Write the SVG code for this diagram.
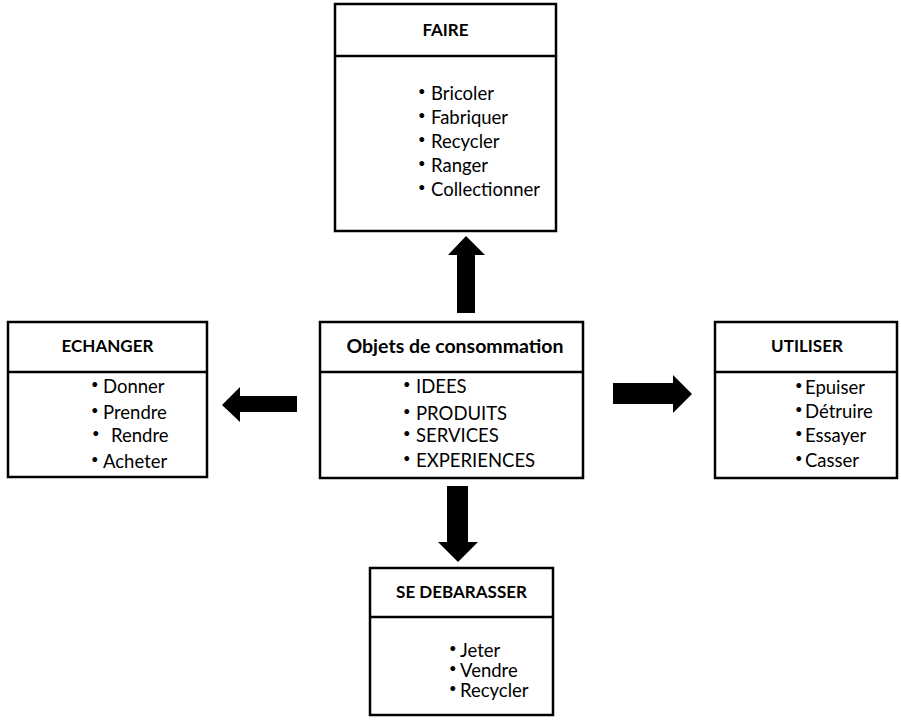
<svg xmlns="http://www.w3.org/2000/svg" width="901" height="725" viewBox="0 0 901 725">
  <style>
    .box { fill: #ffffff; stroke: #000000; stroke-width: 2.5; }
    .rule { stroke: #000000; stroke-width: 2.5; }
    .title { font-family: Lato, "Open Sans", sans-serif; font-weight: bold; font-size: 17px; fill: #000; text-anchor: middle; }
    .item { font-family: Lato, "Open Sans", sans-serif; font-size: 18.5px; fill: #000; }
    .bul { font-family: Lato, "Open Sans", sans-serif; font-size: 13px; fill: #000; }
    .arrow { fill: #000000; }
  </style>

  <!-- connectors: block arrows pointing out from the central box -->
  <g id="connectors">
    <polygon class="arrow" points="457,313 475,313 475,255 485,255 466,236 448,255 457,255"/>
    <polygon class="arrow" points="297,396 297,412 240,412 240,422 222,405 240,387 240,396"/>
    <polygon class="arrow" points="613,383 613,404 673,404 673,413 692,394 673,375 673,383"/>
    <polygon class="arrow" points="447,486 468,486 468,542 478,542 458,562 438,542 447,542"/>
  </g>

  <!-- FAIRE -->
  <g id="faire">
    <rect class="box" x="335" y="4" width="221" height="227"/>
    <line class="rule" x1="335" y1="56" x2="556" y2="56"/>
    <text class="title" x="445.5" y="36">FAIRE</text>
    <text class="bul" x="418" y="96">•</text><text class="item" x="431" y="100">Bricoler</text>
    <text class="bul" x="418" y="120">•</text><text class="item" x="431" y="124">Fabriquer</text>
    <text class="bul" x="418" y="144">•</text><text class="item" x="431" y="148">Recycler</text>
    <text class="bul" x="418" y="168">•</text><text class="item" x="431" y="172">Ranger</text>
    <text class="bul" x="418" y="192">•</text><text class="item" x="431" y="196">Collectionner</text>
  </g>

  <!-- ECHANGER -->
  <g id="echanger">
    <rect class="box" x="8" y="322" width="199" height="155"/>
    <line class="rule" x1="8" y1="372" x2="207" y2="372"/>
    <text class="title" x="107.5" y="352">ECHANGER</text>
    <text class="bul" x="91" y="389">•</text><text class="item" x="103" y="393">Donner</text>
    <text class="bul" x="91" y="415">•</text><text class="item" x="103" y="419">Prendre</text>
    <text class="bul" x="92" y="438">•</text><text class="item" x="111" y="442">Rendre</text>
    <text class="bul" x="91" y="464">•</text><text class="item" x="103" y="468">Acheter</text>
  </g>

  <!-- Objets de consommation -->
  <g id="objets">
    <rect class="box" x="320" y="322" width="263" height="156"/>
    <line class="rule" x1="320" y1="372" x2="583" y2="372"/>
    <text class="title" x="455" y="353" style="font-size:19.5px">Objets de consommation</text>
    <text class="bul" x="403" y="389">•</text><text class="item" x="416" y="393">IDEES</text>
    <text class="bul" x="403" y="416">•</text><text class="item" x="416" y="420">PRODUITS</text>
    <text class="bul" x="403" y="438">•</text><text class="item" x="416" y="442">SERVICES</text>
    <text class="bul" x="403" y="463">•</text><text class="item" x="416" y="467">EXPERIENCES</text>
  </g>

  <!-- UTILISER -->
  <g id="utiliser">
    <rect class="box" x="715" y="322" width="182" height="156"/>
    <line class="rule" x1="715" y1="372" x2="897" y2="372"/>
    <text class="title" x="807" y="352">UTILISER</text>
    <text class="bul" x="795" y="390">•</text><text class="item" x="805" y="394">Epuiser</text>
    <text class="bul" x="795" y="414">•</text><text class="item" x="805" y="418">Détruire</text>
    <text class="bul" x="795" y="438">•</text><text class="item" x="805" y="442">Essayer</text>
    <text class="bul" x="795" y="463">•</text><text class="item" x="805" y="467">Casser</text>
  </g>

  <!-- SE DEBARASSER -->
  <g id="se-debarasser">
    <rect class="box" x="370" y="568" width="183" height="147"/>
    <line class="rule" x1="370" y1="617" x2="553" y2="617"/>
    <text class="title" x="461.5" y="598">SE DEBARASSER</text>
    <text class="bul" x="449" y="653">•</text><text class="item" x="460" y="657">Jeter</text>
    <text class="bul" x="449" y="673">•</text><text class="item" x="460" y="677">Vendre</text>
    <text class="bul" x="449" y="693">•</text><text class="item" x="460" y="697">Recycler</text>
  </g>
</svg>
